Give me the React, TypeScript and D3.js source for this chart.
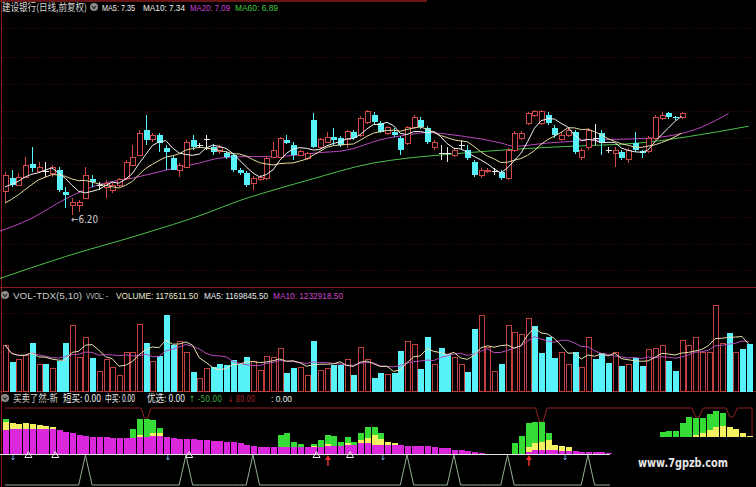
import React from 'react';
import * as d3 from 'd3';

const W = 756;
const H = 487;

// ---------- price data (one entry per bar) ----------
const opens = [6.49,6.66,6.57,6.67,6.84,6.74,6.74,6.72,6.76,6.49,6.32,6.32,6.41,6.65,6.57,6.54,6.51,6.57,6.66,6.82,6.95,7.26,7.14,7.20,7.04,6.91,6.76,6.80,7.14,7.07,7.14,7.05,6.99,6.97,6.95,6.76,6.72,6.60,6.64,6.66,6.92,6.92,7.14,7.07,6.95,6.91,7.39,7.04,7.11,7.17,7.16,7.14,7.24,7.20,7.36,7.45,7.35,7.22,7.24,7.16,7.10,7.29,7.39,7.29,7.05,6.97,6.97,6.95,7.07,7.01,6.86,6.70,6.74,6.75,6.74,6.66,7.01,7.16,7.35,7.45,7.35,7.45,7.29,7.14,7.20,7.24,6.92,7.04,7.16,7.22,7.01,6.97,6.99,6.89,7.10,7.00,6.99,7.16,7.41,7.47,7.42,7.42];
const highs = [6.74,6.76,6.72,6.92,7.05,6.86,6.86,6.82,6.80,6.55,6.41,6.39,6.80,6.70,6.61,6.64,6.60,6.66,6.89,7.07,7.26,7.45,7.23,7.23,7.07,6.95,6.85,7.14,7.20,7.10,7.20,7.09,7.07,7.00,6.97,6.79,6.75,6.69,6.70,6.94,7.11,7.18,7.20,7.11,7.01,6.99,7.48,7.16,7.24,7.29,7.19,7.26,7.26,7.44,7.51,7.49,7.37,7.31,7.29,7.19,7.31,7.45,7.42,7.31,7.14,7.07,7.05,7.04,7.14,7.07,6.89,6.79,6.79,6.79,6.76,7.04,7.25,7.25,7.49,7.51,7.51,7.49,7.32,7.24,7.29,7.26,7.04,7.29,7.34,7.26,7.05,7.05,7.01,7.04,7.24,7.01,7.19,7.45,7.49,7.49,7.44,7.49];
const lows = [6.36,6.55,6.56,6.66,6.74,6.72,6.67,6.67,6.49,6.29,6.20,6.24,6.40,6.55,6.51,6.41,6.47,6.55,6.64,6.81,6.94,7.07,7.11,6.99,6.76,6.76,6.67,6.79,7.01,7.04,7.01,6.95,6.96,6.90,6.74,6.70,6.55,6.51,6.62,6.64,6.91,6.91,7.09,6.89,6.94,6.89,7.04,7.02,7.10,7.07,7.05,7.04,7.14,7.18,7.34,7.34,7.22,7.20,7.17,6.95,7.07,7.27,7.27,7.09,7.01,6.89,6.86,6.92,7.01,6.89,6.67,6.66,6.72,6.70,6.64,6.64,6.99,7.14,7.32,7.42,7.32,7.32,7.16,7.12,7.17,6.96,6.89,7.01,7.07,6.95,6.97,6.80,6.89,6.85,6.99,6.91,6.97,7.14,7.39,7.40,7.39,7.40];
const closes = [6.70,6.57,6.67,6.82,6.79,6.79,6.74,6.80,6.51,6.45,6.36,6.36,6.70,6.61,6.57,6.60,6.57,6.64,6.86,6.92,7.22,7.14,7.20,7.10,6.99,6.76,6.82,7.11,7.05,7.07,7.14,6.99,7.04,6.92,6.76,6.72,6.57,6.66,6.67,6.91,7.01,7.16,7.10,6.95,6.99,6.97,7.05,7.14,7.17,7.14,7.07,7.24,7.16,7.41,7.49,7.36,7.24,7.29,7.20,7.01,7.29,7.42,7.30,7.11,7.11,6.97,6.97,7.01,7.07,6.91,6.70,6.76,6.76,6.75,6.66,7.01,7.22,7.22,7.47,7.49,7.49,7.35,7.20,7.20,7.26,6.99,7.01,7.26,7.16,7.10,7.01,7.01,6.91,7.01,7.01,6.98,7.16,7.42,7.45,7.42,7.41,7.47];
// closes of the 9 bars before the visible window (for the moving averages)
const priorCloses = [6.10,6.12,6.15,6.18,6.20,6.40,6.48,6.55,6.62];
// MA20 / MA60: [bar index, price]
const ma20Pts: [number, number][] = [[-1,5.99],[4,6.16],[9,6.40],[14,6.58],[19,6.66],[24,6.76],[29,6.85],[32,6.91],[36,6.93],[40,6.93],[47,6.98],[51,7.01],[56,7.14],[60,7.20],[63,7.23],[67,7.20],[74,7.10],[76,7.06],[81,7.10],[89,7.14],[96,7.16],[104,7.30],[108,7.47]];
const ma60Pts: [number, number][] = [[-1,5.40],[9,5.68],[20,5.95],[30,6.22],[35,6.38],[38,6.46],[45,6.63],[55,6.85],[60,6.91],[65,6.95],[74,7.01],[82,7.05],[96,7.11],[102,7.18],[111,7.31]];
const gridPrices = [5.51,5.84,6.17,6.51,6.84,7.16,7.50,7.84,8.17,8.54];
const lowMark = { index: 10, price: 6.20, label: '←6.20' };

// ---------- volume (unit: 10k) ----------
const volumes = [150,95,104,117,156,85,88,75,98,156,212,108,173,108,65,104,78,49,124,124,218,156,95,114,248,150,160,127,62,42,75,78,88,85,101,88,111,95,68,111,108,140,59,75,78,52,163,68,75,85,85,104,52,143,104,42,59,55,59,130,160,153,72,176,85,140,121,108,85,62,202,245,143,62,88,212,192,183,235,212,124,176,108,124,85,127,78,173,104,124,91,127,82,85,108,82,134,140,150,98,65,166,150,173,124,127,280,156,189,127,137,153];
const volUp = [1,0,1,1,0,1,0,1,0,0,1,1,1,0,1,1,1,1,1,1,1,0,1,0,0,0,1,1,0,1,1,0,0,0,0,0,0,1,1,1,1,1,0,0,1,1,0,1,1,0,0,1,0,1,1,0,0,1,0,0,1,1,0,0,1,0,0,1,1,0,0,1,1,1,0,1,1,1,1,0,0,0,0,1,1,0,1,1,0,0,0,1,0,1,0,0,1,1,1,0,0,1,1,1,1,1,1,1,0,1,0,0];
const volGrid = [127, 254];

// ---------- indicator 买卖了然 ----------
const indMag = [24,25,25,25,25,25,25,25,24,22,21,19,18,17,17,17,16,16,16,16,17,17,18,18,17,16,15,15,15,14,14,13,13,12,12,11,9,8,7,7,7,7,7,7,7,7,7,7,8,8,8,9,9,11,11,9,9,9,9,9,8,8,8,8,7,6,6,4,4,3,2,1,0,0,0,0,0,0,2,4,4,4,4,3,3,3,2,2,2,2,1];
const indYel = [8,6,5,6,5,4,3,2,0,0,0,0,0,0,0,0,0,0,0,0,2,0,3,3,0,0,0,0,0,0,0,0,0,0,0,0,0,0,0,0,0,0,0,0,0,0,1,0,2,0,0,2,0,3,5,10,6,3,2,0,0,0,0,0,0,0,0,0,0,0,0,0,0,0,0,0,0,0,5,7,8,10,5,5,4,0,0,0,0,0,0];
const indGrn = [3,0,0,0,0,0,0,0,0,0,0,0,0,0,0,0,0,0,0,9,16,18,13,5,0,0,0,0,0,0,0,0,0,0,0,0,0,0,0,0,0,12,14,5,3,0,2,7,9,10,4,6,3,7,11,8,6,0,0,0,0,0,0,0,0,0,0,0,0,0,0,0,0,0,0,0,11,18,24,21,20,7,0,0,0,0,0,0,0,0,0];
const rightStart = 98;
const rightYel = [0,0,0,0,0,2,4,7,10,11,10,8,4,1];
const rightGrn = [5,6,6,14,20,17,15,16,16,13,0,0,0,0];
const topLinePts: [number, number][] = [[0,46],[20.3,46],[20.8,36],[21.3,36],[21.8,46],[79.2,46],[79.8,32],[80.3,32],[80.9,46],[102.5,46],[103.1,37],[103.6,37],[104.2,46],[107.6,46],[108.2,37],[108.7,37],[109.3,46],[111.5,46],[111.5,17]];
const signalPeaks = [12, 27, 37, 60, 67, 75, 87];
const signalEnd = 90.3;
const triMarks = [3.5, 7.5, 27.5, 46.5, 51.5];
const blueMarks = [1.2, 24.3, 56.4, 83.6];
const redArrows = [48.2, 78.2];

const RED = '#d04848';
const CYAN = '#58f2fa';
const GRID = '#3e0e0e';
const FRAME = '#8a1c1c';
const CJK = '"Noto Sans CJK SC", "DejaVu Sans", sans-serif';
const LAT = '"Liberation Sans", Arial, sans-serif';
const SYM = '"DejaVu Sans", sans-serif';

function Txt({ x, y, w, fill, children, size = 9, font = LAT, weight = 400 }: any) {
  return (
    <text x={x} y={y} fill={fill} fontSize={size} fontFamily={font} fontWeight={weight}
      textLength={w} lengthAdjust="spacingAndGlyphs">{children}</text>
  );
}

function Icon({ x, y }: { x: number; y: number }) {
  return (
    <g>
      <circle cx={x} cy={y} r={4} fill="#8c8c8c" />
      <path d={`M${x - 2},${y - 1} L${x},${y + 1.5} L${x + 2},${y - 1}`} stroke="#222" strokeWidth={1.2} fill="none" />
    </g>
  );
}

export default function App() {
  const n = closes.length;
  const x = d3.scaleLinear().domain([0, 111]).range([5, 748.7]);
  const yP = d3.scaleLinear().domain([5.325, 8.8875]).range([285, 0]);
  const yV = d3.scaleLinear().domain([0, 300]).range([391, 299]);
  const yI = d3.scaleLinear().domain([0, 50]).range([454, 404]);
  const yI2 = d3.scaleLinear().domain([0, 50]).range([437, 387]);
  const yS = d3.scaleLinear().domain([0, 1]).range([485, 455]);
  const bw = 5;

  const all = priorCloses.concat(closes);
  const off = priorCloses.length;
  const maOf = (k: number) => d3.range(n).map((i) => [i, d3.mean(all.slice(i + off - k + 1, i + off + 1)) as number] as [number, number]);
  const ma5 = maOf(5);
  const ma10 = maOf(10);

  const lineP = d3.line<[number, number]>().x((d) => x(d[0])).y((d) => yP(d[1]));
  const smoothP = d3.line<[number, number]>().x((d) => x(d[0])).y((d) => yP(d[1])).curve(d3.curveMonotoneX);

  const vMA = (k: number) => volumes.map((_, i) => [i, d3.mean(volumes.slice(Math.max(0, i - k + 1), i + 1)) as number] as [number, number]);
  const lineV = d3.line<[number, number]>().x((d) => x(d[0])).y((d) => yV(d[1]));

  const lineI = d3.line<[number, number]>().x((d) => x(d[0])).y((d) => yI(d[1]));
  const sigPts: [number, number][] = d3.range(0, Math.floor(signalEnd) + 1).map((i) => [i, signalPeaks.includes(i) ? 1 : 0]);
  sigPts.push([signalEnd, 0]);
  const lineS = d3.line<[number, number]>().x((d) => x(d[0])).y((d) => yS(d[1]));

  return (
    <svg width={W} height={H} style={{ position: 'absolute', left: 0, top: 0, display: 'block' }}>
      <defs>
        <clipPath id="mainClip"><rect x={0} y={0} width={W} height={287} /></clipPath>
        <clipPath id="volClip"><rect x={0} y={300} width={W} height={92} /></clipPath>
      </defs>
      <rect x={0} y={0} width={W} height={H} fill="#000" />

      {/* grid */}
      {gridPrices.map((p) => (
        <line key={p} x1={0} x2={W} y1={Math.round(yP(p)) + 0.5} y2={Math.round(yP(p)) + 0.5} stroke={GRID} strokeDasharray="1,2" />
      ))}
      {volGrid.map((v) => (
        <line key={v} x1={0} x2={W} y1={Math.round(yV(v)) + 0.5} y2={Math.round(yV(v)) + 0.5} stroke={GRID} strokeDasharray="1,2" />
      ))}
      {/* frame */}
      <line x1={0} x2={427} y1={1} y2={1} stroke={FRAME} strokeWidth={1.5} />
      <line x1={0} x2={W} y1={287.5} y2={287.5} stroke={FRAME} />
      <line x1={0} x2={W} y1={391.5} y2={391.5} stroke={FRAME} />
      <line x1={1.5} x2={1.5} y1={0} y2={H} stroke={FRAME} />

      {/* main panel */}
      <g clipPath="url(#mainClip)">
        <path d={smoothP(ma60Pts) || ''} fill="none" stroke="#4cc04c" strokeWidth={1} />
        <path d={smoothP(ma20Pts) || ''} fill="none" stroke="#b848c0" strokeWidth={1} />
        {closes.map((c, i) => {
          const o = opens[i];
          const cx = Math.round(x(i)) + 0.5;
          const yh = yP(highs[i]);
          const yl = yP(lows[i]);
          const yo = yP(o);
          const yc = yP(c);
          if (c > o) {
            return (
              <g key={i} stroke={RED} strokeWidth={1} shapeRendering="crispEdges">
                <line x1={cx} x2={cx} y1={yh} y2={yc} />
                <line x1={cx} x2={cx} y1={yo} y2={yl} />
                <rect x={cx - bw / 2} y={yc} width={bw} height={Math.max(1, yo - yc)} fill="#000" />
              </g>
            );
          }
          if (c < o) {
            return (
              <g key={i} shapeRendering="crispEdges">
                <line x1={cx} x2={cx} y1={yh} y2={yl} stroke={CYAN} />
                <rect x={cx - bw / 2 - 0.5} y={yo} width={bw + 1} height={Math.max(1, yc - yo)} fill={CYAN} />
              </g>
            );
          }
          return (
            <g key={i} stroke="#e8e8e8" shapeRendering="crispEdges">
              <line x1={cx} x2={cx} y1={yh} y2={yl} />
              <line x1={cx - 3} x2={cx + 3} y1={yo} y2={yo} />
            </g>
          );
        })}
        <path d={lineP(ma10) || ''} fill="none" stroke="#e6dca0" strokeWidth={1} />
        <path d={lineP(ma5) || ''} fill="none" stroke="#f4f4f4" strokeWidth={1} />
        <text x={x(lowMark.index) - 1} y={yP(lowMark.price) + 8} fill="#cfcfcf" fontSize={10} fontFamily={SYM}
          textLength={27} lengthAdjust="spacingAndGlyphs">{lowMark.label}</text>
      </g>

      {/* main header */}
      <Txt x={2} y={11} w={85} size={10} fill="#d8d8d8" font={CJK}>建设银行(日线,前复权)</Txt>
      <Icon x={94} y={7} />
      <Txt x={102} y={11} w={33} fill="#f0f0f0">MA5: 7.35</Txt>
      <Txt x={143} y={11} w={42} fill="#f0f0f0">MA10: 7.34</Txt>
      <Txt x={190} y={11} w={40} fill="#d040d8">MA20: 7.09</Txt>
      <Txt x={235} y={11} w={43} fill="#48c848">MA60: 6.89</Txt>

      {/* volume panel */}
      <g clipPath="url(#volClip)">
        {volumes.map((v, i) => {
          const cx = Math.round(x(i)) + 0.5;
          const top = yV(v);
          return volUp[i] ? (
            <rect key={i} x={cx - bw / 2} y={top} width={bw} height={391 - top} fill="none" stroke="#c24040" shapeRendering="crispEdges" />
          ) : (
            <rect key={i} x={cx - bw / 2 - 0.5} y={top} width={bw + 1} height={391.5 - top} fill={CYAN} shapeRendering="crispEdges" />
          );
        })}
        <path d={lineV(vMA(10)) || ''} fill="none" stroke="#b64cbc" strokeWidth={1} />
        <path d={lineV(vMA(5)) || ''} fill="none" stroke="#e8e2b0" strokeWidth={1} />
      </g>
      <Icon x={5} y={295} />
      <Txt x={13} y={299} w={69} fill="#c8c8c8">VOL-TDX(5,10)</Txt>
      <Txt x={86} y={299} w={22} fill="#c8c8c8">VVOL: -</Txt>
      <Txt x={116} y={299} w={82} fill="#ecebd0">VOLUME: 1176511.50</Txt>
      <Txt x={204} y={299} w={64} fill="#ececec">MA5: 1169845.50</Txt>
      <Txt x={273} y={299} w={70} fill="#c848c8">MA10: 1232918.50</Txt>

      {/* indicator panel */}
      <Icon x={5} y={398} />
      <Txt x={13} y={402} w={45} size={10} fill="#cfcfcf" font={CJK}>买卖了然-新</Txt>
      <Txt x={63} y={402} w={38} size={10} fill="#ececec" font={CJK}>短买: 0.00</Txt>
      <Txt x={105} y={402} w={30} size={10} fill="#ececec" font={CJK}>中买: 0.00</Txt>
      <Txt x={147} y={402} w={38} size={10} fill="#ececec" font={CJK}>优选: 0.00</Txt>
      <Txt x={189} y={402} w={33} fill="#3fae3f" font={SYM}>↑ -50.00</Txt>
      <Txt x={228} y={402} w={27} fill="#a02424" font={SYM}>↓ 80.00</Txt>
      <Txt x={271} y={402} w={21} fill="#ececec">: 0.00</Txt>

      <path d={lineI(topLinePts) || ''} fill="none" stroke="#8e2020" strokeWidth={1} />

      {indMag.map((m, i) => {
        const cx = Math.round(x(i)) + 0.5;
        const yv = indYel[i];
        const g = indGrn[i];
        return (
          <g key={i} shapeRendering="crispEdges">
            {m > 0 && <rect x={cx - bw / 2 - 0.5} y={yI(m)} width={bw + 1} height={yI(0) - yI(m)} fill="#dc28dc" />}
            {yv > 0 && <rect x={cx - bw / 2 - 0.5} y={yI(m + yv)} width={bw + 1} height={yI(m) - yI(m + yv)} fill="#f4f060" />}
            {g > 0 && <rect x={cx - bw / 2 - 0.5} y={yI(m + yv + g)} width={bw + 1} height={yI(m + yv) - yI(m + yv + g)} fill="#36dc36" />}
          </g>
        );
      })}
      {rightYel.map((yv, k) => {
        const i = rightStart + k;
        const cx = Math.round(x(i)) + 0.5;
        const g = rightGrn[k];
        return (
          <g key={i} shapeRendering="crispEdges">
            {yv > 0 && <rect x={cx - bw / 2 - 0.5} y={yI2(yv)} width={bw + 1} height={yI2(0) - yI2(yv)} fill="#f4f060" />}
            {g > 0 && <rect x={cx - bw / 2 - 0.5} y={yI2(yv + g)} width={bw + 1} height={yI2(yv) - yI2(yv + g)} fill="#36dc36" />}
          </g>
        );
      })}
      <line x1={0} x2={x(signalEnd)} y1={454.5} y2={454.5} stroke="#e4e4e4" strokeWidth={1.2} />
      <path d={lineS(sigPts) || ''} fill="none" stroke="#93b293" strokeWidth={1} />

      {triMarks.map((t) => (
        <path key={t} d={`M${x(t) - 3.5},457.5 L${x(t)},451.5 L${x(t) + 3.5},457.5 Z`} fill="none" stroke="#e8e8e8" strokeWidth={1} />
      ))}
      {blueMarks.map((t) => (
        <g key={t} stroke="#6aa0e0" strokeWidth={1}>
          <line x1={x(t)} x2={x(t)} y1={455} y2={460} />
          <path d={`M${x(t) - 1.5},458 L${x(t)},460 L${x(t) + 1.5},458`} fill="none" />
        </g>
      ))}
      {redArrows.map((t) => (
        <g key={t}>
          <path d={`M${x(t) - 3},460 L${x(t)},455 L${x(t) + 3},460 Z`} fill="#e83030" />
          <line x1={x(t)} x2={x(t)} y1={459} y2={466} stroke="#e83030" strokeWidth={1.5} />
        </g>
      ))}

      <Txt x={638} y={467} w={90} fill="#e6e6e6" size={12} weight={700} font={SYM}>www.7gpzb.com</Txt>
    </svg>
  );
}
